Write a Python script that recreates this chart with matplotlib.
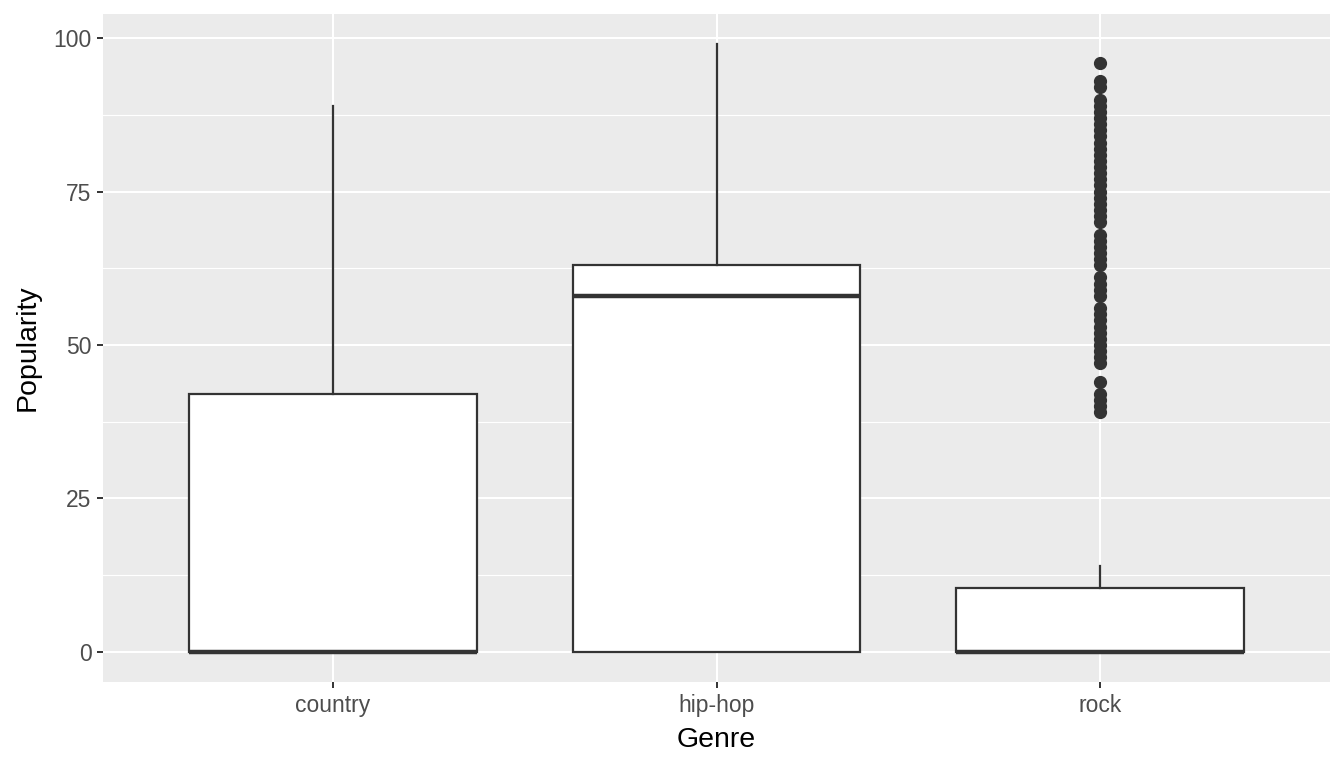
import matplotlib
matplotlib.use('Agg')
import matplotlib.pyplot as plt
from matplotlib.ticker import MultipleLocator

plt.rcParams['font.family'] = ['Liberation Sans', 'DejaVu Sans']

# box statistics
genres = ['country', 'hip-hop', 'rock']
q1 = [0, 0, 0]
med = [0, 58, 0]
q3 = [42, 63, 10.3]
wlo = [0, 0, 0]
whi = [89, 99, 14]
rock_out = [96, 93, 92, 90, 89, 88, 87, 86, 85, 84, 83, 82, 81, 80, 79, 78, 77,
            76, 75, 74, 73, 72, 71, 70, 68, 67, 66, 65, 64, 63, 61, 60, 59, 58,
            56, 55, 54, 53, 52, 51, 50, 49, 48, 47, 44, 42, 41, 40, 39]
fliers = [[], [], rock_out]

stats = []
for i in range(len(genres)):
    stats.append(dict(label=genres[i], q1=q1[i], med=med[i], q3=q3[i],
                      whislo=wlo[i], whishi=whi[i], fliers=fliers[i]))

fig, ax = plt.subplots(figsize=(13.44, 7.68), dpi=100)
fig.subplots_adjust(left=103/1344, right=1330/1344, top=1-14/768, bottom=1-682/768)

ax.set_facecolor('#EBEBEB')
for s in ax.spines.values():
    s.set_visible(False)

ax.yaxis.set_major_locator(MultipleLocator(25))
ax.yaxis.set_minor_locator(MultipleLocator(12.5))
ax.grid(which='major', color='white', linewidth=1.5)
ax.grid(which='minor', axis='y', color='white', linewidth=0.8)
ax.set_axisbelow(True)

lc = '#333333'
ax.bxp(stats, positions=[1, 2, 3], widths=0.75, patch_artist=True, showcaps=False,
       boxprops=dict(facecolor='white', edgecolor=lc, linewidth=1.6),
       medianprops=dict(color=lc, linewidth=3.2),
       whiskerprops=dict(color=lc, linewidth=1.6),
       flierprops=dict(marker='o', markerfacecolor=lc, markeredgecolor=lc,
                       markersize=8.5, linestyle='none'),
       zorder=3)

ax.set_xlim(0.4, 3.6)
ax.set_ylim(-4.95, 103.95)
ax.set_xticks([1, 2, 3])
ax.set_xticklabels(genres)
ax.set_yticks([0, 25, 50, 75, 100])

ax.tick_params(which='major', length=4.2, width=1.4, color=lc, labelcolor='#4D4D4D',
               labelsize=16.5)
ax.tick_params(axis='y', pad=4)
ax.tick_params(axis='x', pad=4.5)
ax.tick_params(which='minor', length=0)
ax.set_xlabel('Genre', fontsize=20.5, labelpad=7)
ax.set_ylabel('Popularity', fontsize=20.5, labelpad=9)

fig.savefig('out.png', dpi=100)
